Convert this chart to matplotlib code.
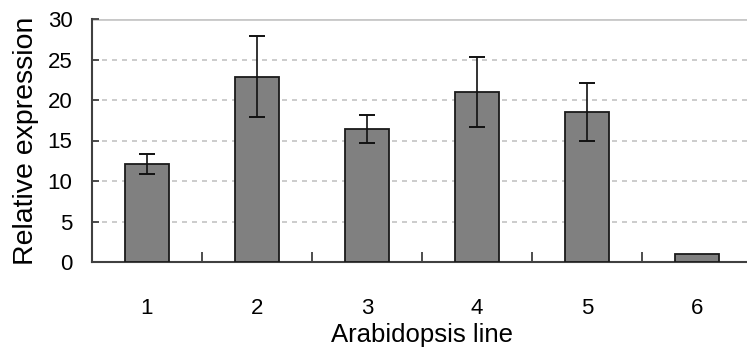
import matplotlib
matplotlib.use("Agg")
import matplotlib.pyplot as plt
from matplotlib import font_manager
import numpy as np

categories = ["1", "2", "3", "4", "5", "6"]
values = [12.1, 22.9, 16.4, 20.95, 18.55, 1.0]
errors = [1.25, 4.95, 1.75, 4.3, 3.55, 0.0]
yticks = [0, 5, 10, 15, 20, 25, 30]

names = {f.name for f in font_manager.fontManager.ttflist}
base = "Liberation Sans" if "Liberation Sans" in names else "DejaVu Sans"

fig = plt.figure(figsize=(7.47, 3.56), dpi=100)
ax = fig.add_axes([92/747, 1-262/356, 660/747, 243/356])

x = np.arange(len(categories))
ax.bar(x, values, width=0.4, color="#808080", edgecolor="#1a1a1a", linewidth=1.3, zorder=3)
ax.errorbar(x[:5], values[:5], yerr=errors[:5], fmt="none", ecolor="#111111",
            elinewidth=1.2, capsize=5.5, capthick=1.4, zorder=4)

ax.set_xlim(-0.5, len(categories) - 0.5)
ax.set_ylim(0, 30)
ax.set_yticks(yticks)
ax.set_yticklabels([str(v) for v in yticks], fontsize=16, family=base)
ax.set_xticks(x)
ax.set_xticklabels(categories, fontsize=16, family=base)
ax.set_xticks(x[:-1] + 0.5, minor=True)
ax.tick_params(axis="x", which="major", length=0, pad=26)
ax.tick_params(axis="x", which="minor", direction="in", length=7, width=1.3, color="#404040")
ax.tick_params(axis="y", direction="in", length=5, width=1.3, color="#404040", pad=14)

for v in yticks[1:-1]:
    ax.axhline(v, color="#c4c4c4", linewidth=1.2, linestyle=(0, (3, 3)), zorder=1)
ax.axhline(30, color="#c8c8c8", linewidth=2, zorder=1)

for s in ["top", "right"]:
    ax.spines[s].set_visible(False)
ax.spines["left"].set_color("#404040")
ax.spines["bottom"].set_color("#404040")
ax.spines["left"].set_linewidth(1.5)
ax.spines["bottom"].set_linewidth(1.5)

ax.set_xlabel("Arabidopsis line", fontsize=18.5, family=base, labelpad=3)
ax.set_ylabel("Relative expression", fontsize=20.5, family=base, labelpad=6)

fig.savefig("out.png", dpi=100)
